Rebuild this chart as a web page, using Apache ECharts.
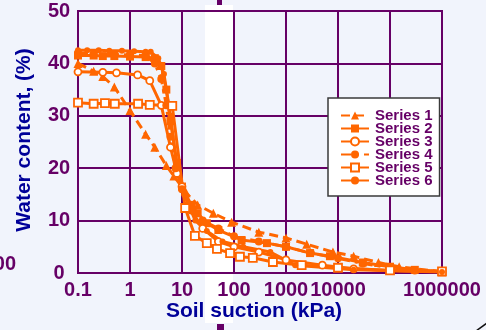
<!DOCTYPE html>
<html>
<head>
<meta charset="utf-8">
<script src="https://cdn.jsdelivr.net/npm/echarts@6/dist/echarts.min.js"></script>
<style>
  html, body { margin: 0; padding: 0; background: #f1f4fc; }
  #chart { width: 486px; height: 330px; }
</style>
</head>
<body>
<div id="chart"></div>
<script>
// Tick labels
const xTickLabels = ['0.1', '1', '10', '100', '1000', '10000', '', '1000000'];
const yTickLabels = ['0', '10', '20', '30', '40', '50'];
const seriesNames = ['Series 1', 'Series 2', 'Series 3', 'Series 4', 'Series 5', 'Series 6'];

// Soil suction (kPa) and water content (%) for each series
const s1x = [0.1, 0.2, 0.3, 0.5, 1, 2, 3, 5, 7, 12, 20, 40, 90, 300, 1000, 2500, 8000, 20000, 60000, 150000, 1000000];
const s1y = [40, 38.5, 37.5, 35.5, 31, 26.5, 24, 20.5, 18.5, 15.3, 13, 11.4, 9.7, 7.8, 6.7, 5.5, 4, 3.2, 2, 1.2, 0.2];

const s2x = [0.1, 0.2, 0.3, 0.5, 1, 2, 3, 4, 5, 6, 8, 10, 15, 20, 30, 50, 140, 430, 1000, 2900, 7000, 30000, 100000, 300000, 1000000];
const s2y = [41.5, 41.5, 41.4, 41.4, 41.3, 41.2, 41, 39.5, 35, 29, 21, 16.5, 13, 11.4, 9.5, 8.2, 6.3, 5.7, 5, 3.8, 3.2, 2, 1.2, 0.6, 0.3];

const s3x = [0.1, 0.3, 0.55, 1.4, 2.4, 4, 6, 8, 10, 15, 25, 50, 100, 300, 1000, 5000, 20000, 100000, 1000000];
const s3y = [38.4, 38.3, 38.2, 37.8, 36.7, 32, 24, 19, 16.5, 12, 8.5, 6, 5, 4, 2.5, 1.5, 0.8, 0.5, 0.3];

const s4x = [0.1, 0.2, 0.5, 1, 2, 3, 4, 5, 6, 7.5, 10, 15, 25, 50, 100, 300, 1000, 3000, 10000, 30000, 100000, 300000, 1000000];
const s4y = [42, 41.8, 41.7, 41.6, 41.5, 40, 37, 32, 26, 20, 16, 12, 10, 8.5, 7, 6, 5, 3.8, 2.8, 1.8, 1, 0.5, 0.3];

const s5x = [0.1, 0.2, 0.33, 0.51, 1.43, 2.4, 6.5, 11.5, 17.7, 30, 47, 84, 130, 230, 560, 2000, 10000, 100000, 1000000];
const s5y = [32.5, 32.3, 32.4, 32.3, 32.3, 32.1, 31.9, 12.4, 7.1, 5.7, 4.6, 3.8, 3.1, 2.9, 2.1, 1.5, 1.0, 0.5, 0.3];

const s6x = [0.1, 0.15, 0.25, 0.4, 0.7, 1.2, 2, 2.5, 3.5, 4.5, 6, 8, 11, 18, 30, 60, 150, 500, 1500, 20000, 1000000];
const s6y = [42.5, 42.5, 42.5, 42.4, 42.4, 42.3, 42.2, 42.2, 41, 38, 30, 20, 15, 10, 8, 6, 5, 4, 1.5, 0.6, 0.2];

const ORANGE = '#ff6600';
const PURPLE = '#660066';
const BLUE = '#000099';

function pairs(xs, ys) { return xs.map((x, i) => [x, ys[i]]); }

const chart = echarts.init(document.getElementById('chart'), null, { renderer: 'canvas' });

const seriesCfg = [
  { x: s1x, y: s1y, symbol: 'triangle', size: 9, type: [9, 5], fill: ORANGE },
  { x: s2x, y: s2y, symbol: 'rect', size: 8, type: 'solid', fill: ORANGE },
  { x: s3x, y: s3y, symbol: 'circle', size: 7, type: 'solid', fill: '#ffffff' },
  { x: s4x, y: s4y, symbol: 'circle', size: 8, type: [10, 5, 3, 5], fill: ORANGE },
  { x: s5x, y: s5y, symbol: 'rect', size: 8, type: 'solid', fill: '#ffffff' },
  { x: s6x, y: s6y, symbol: 'circle', size: 6, type: 'solid', fill: ORANGE }
];

const option = {
  backgroundColor: '#f1f4fc',
  animation: false,
  grid: {
    left: 78, right: 44, top: 11, bottom: 57,
    show: true, borderColor: PURPLE, borderWidth: 2, backgroundColor: 'transparent'
  },
  xAxis: {
    type: 'log', logBase: 10, min: 0.1, max: 1000000, splitNumber: 7,
    axisLine: { show: true, lineStyle: { color: PURPLE, width: 2 } },
    axisTick: { show: false },
    splitLine: { show: true, lineStyle: { color: PURPLE, width: 2 } },
    axisLabel: {
      color: PURPLE, fontFamily: 'Liberation Sans, Arial, sans-serif', fontWeight: 'bold', fontSize: 20,
      margin: 7,
      formatter: function (v) { const e = Math.round(Math.log10(v)); return xTickLabels[e + 1] || ''; }
    }
  },
  yAxis: {
    type: 'value', min: 0, max: 50, interval: 10,
    axisLine: { show: true, lineStyle: { color: PURPLE, width: 2 } },
    axisTick: { show: false },
    splitLine: { show: true, lineStyle: { color: PURPLE, width: 2 } },
    axisLabel: {
      color: PURPLE, fontFamily: 'Liberation Sans, Arial, sans-serif', fontWeight: 'bold', fontSize: 20,
      align: 'center', margin: 19,
      formatter: function (v) { return yTickLabels[Math.round(v / 10)]; }
    }
  },
  legend: {
    orient: 'vertical', left: 328, top: 98,
    backgroundColor: '#ffffff', borderColor: '#3a3a3a', borderWidth: 1.5, borderRadius: 0,
    padding: [10, 7, 8, 12],
    itemWidth: 28, itemHeight: 10, itemGap: -2,
    textStyle: { color: PURPLE, fontFamily: 'Liberation Sans, Arial, sans-serif', fontWeight: 'bold', fontSize: 15, lineHeight: 13, padding: [0, 0, 0, 1] },
    data: seriesNames
  },
  graphic: [
    { type: 'rect', z: -10, shape: { x: 205, y: 5, width: 28, height: 318 }, style: { fill: '#ffffff' } },
    { type: 'rect', z: 10, shape: { x: 217, y: 0, width: 5, height: 5 }, style: { fill: PURPLE } },
    { type: 'rect', z: 10, shape: { x: 217, y: 324, width: 7, height: 6 }, style: { fill: PURPLE } },
    { type: 'line', z: 10, shape: { x1: 476, y1: 331, x2: 487, y2: 323 }, style: { stroke: '#111', lineWidth: 1.5 } },
    { type: 'text', z: 10, x: 16, y: 264,
      style: { text: '100', fill: PURPLE, font: 'bold 20px Liberation Sans, Arial, sans-serif', textAlign: 'right', textVerticalAlign: 'middle' } },
    { type: 'text', z: 10, x: 254, y: 311,
      style: { text: 'Soil suction (kPa)', fill: BLUE, font: 'bold 21px Liberation Sans, Arial, sans-serif', textAlign: 'center', textVerticalAlign: 'middle' } },
    { type: 'text', z: 10, x: 24, y: 140, rotation: Math.PI / 2,
      style: { text: 'Water content, (%)', fill: BLUE, font: 'bold 21px Liberation Sans, Arial, sans-serif', textAlign: 'center', textVerticalAlign: 'middle' } }
  ],
  series: seriesCfg.map((c, i) => ({
    name: seriesNames[i],
    type: 'line',
    data: pairs(c.x, c.y),
    symbol: c.symbol,
    symbolSize: c.size,
    showAllSymbol: true,
    lineStyle: { color: ORANGE, width: 3, type: c.type },
    itemStyle: { color: c.fill, borderColor: ORANGE, borderWidth: c.fill === '#ffffff' ? 1.8 : 0 },
    smooth: false,
    z: 3
  }))
};

chart.setOption(option);
</script>
</body>
</html>
